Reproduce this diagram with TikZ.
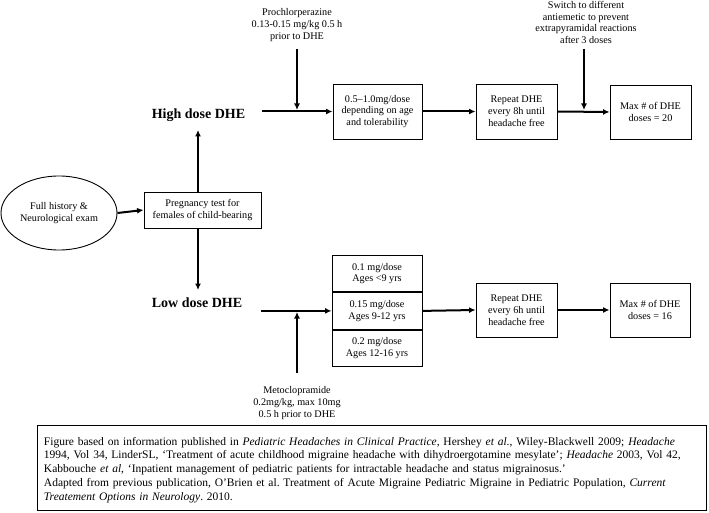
\documentclass[tikz,border=0pt]{standalone}
\usepackage{fontspec}
\setmainfont{Liberation Serif}
\usetikzlibrary{shapes.geometric,arrows.meta}
\begin{document}
\frenchspacing
\begin{tikzpicture}[x=1pt,y=-1pt,
  box/.style={draw,line width=0.9pt,align=center,font=\fontsize{10.2}{11.8}\selectfont,inner sep=1pt},
  lbl/.style={align=center,font=\fontsize{10.2}{11.6}\selectfont,inner sep=0pt},
  dose/.style={font=\fontsize{14}{15}\selectfont\bfseries,inner sep=0pt,minimum width=127pt},
  arr/.style={line width=2pt,-{Latex[length=6.5pt,width=6pt]}},
  stk/.style={box,minimum width=90pt,minimum height=36.5pt}]
\useasboundingbox (0,0) rectangle (709,513);
% start
\node[draw,ellipse,line width=0.9pt,minimum width=116pt,minimum height=74pt,align=center,
  font=\fontsize{10.2}{11.8}\selectfont,inner sep=0pt] (ex) at (59,213) {Full history \&\\Neurological exam};
\node[box,minimum width=117pt,minimum height=36pt] (preg) at (202.5,210) {Pregnancy test for\\females of child-bearing};
\draw[arr] (ex.east) -- (preg.west);
% high
\node[dose] (hi) at (198.5,115) {High dose DHE};
\node[dose] (lo) at (197,303) {Low dose DHE};
\coordinate (hiend) at (198,130);
\coordinate (loend) at (198,290);
\draw[arr] (preg.north -| hiend) -- (hiend);
\draw[arr] (preg.south -| loend) -- (loend);
\node[box,minimum width=89pt,minimum height=55pt] (b1) at (377.5,111.5) {0.5–1.0mg/dose\\depending on age\\and tolerability};
\node[box,minimum width=81pt,minimum height=55pt] (b2) at (516.5,111.5) {Repeat DHE\\every 8h until\\headache free};
\node[box,minimum width=81pt,minimum height=54pt] (b3) at (650.5,112) {Max \# of DHE\\doses = 20};
\draw[arr] (hi.east |- b1.west) -- (b1.west);
\draw[arr] (b1.east) -- (b2.west);
\draw[arr] (b2.east) -- (b3.west);
\node[lbl] (pro) at (297,25) {Prochlorperazine\\0.13-0.15 mg/kg 0.5 h\\prior to DHE};
\coordinate (prostart) at (297,49);
\coordinate (proend) at (297,110);
\draw[arr] (prostart) -- (proend);
\node[lbl] (sw) at (586,22.5) {Switch to different\\antiemetic to prevent\\extrapyramidal reactions\\after 3 doses};
\coordinate (swstart) at (584,49);
\coordinate (swend) at (584,110);
\draw[arr] (swstart) -- (swend);
% low
\node[stk] (s1) at (377,273.5) {0.1 mg/dose\\Ages <9 yrs};
\node[stk,anchor=north] (s2) at (s1.south) {0.15 mg/dose\\Ages 9-12 yrs};
\node[stk,anchor=north] (s3) at (s2.south) {0.2 mg/dose\\Ages 12-16 yrs};
\node[box,minimum width=81pt,minimum height=54pt] (c2) at (516.5,310) {Repeat DHE\\every 6h until\\headache free};
\node[box,minimum width=80pt,minimum height=54pt] (c3) at (650,310) {Max \# of DHE\\doses = 16};
\draw[arr] (lo.east |- s2.west) -- (s2.west);
\draw[arr] (s2.east) -- (c2.west);
\draw[arr] (c2.east) -- (c3.west);
\node[lbl] (met) at (297,403) {Metoclopramide\\0.2mg/kg, max 10mg\\0.5 h prior to DHE};
\coordinate (metstart) at (297,373);
\coordinate (metend) at (297,312);
\draw[arr] (metstart) -- (metend);
% caption
\node[draw,line width=0.9pt,anchor=north west,minimum width=669pt,minimum height=85pt,
  text width=664pt,align=left,inner sep=0pt,font=\fontsize{11.5}{13.8}\selectfont] (cap) at (37,425)
{\hspace*{4pt}\begin{minipage}{660pt}\vspace{4pt}Figure based on information published in \textit{Pediatric Headaches in Clinical Practice}, Hershey \textit{et al}., Wiley-Blackwell 2009; \textit{Headache}\\
1994, Vol 34, LinderSL, ‘Treatment of acute childhood migraine headache with dihydroergotamine mesylate’; \textit{Headache} 2003, Vol 42,\\
Kabbouche \textit{et al}, ‘Inpatient management of pediatric patients for intractable headache and status migrainosus.’\\
Adapted from previous publication, O’Brien et al. Treatment of Acute Migraine Pediatric Migraine in Pediatric Population, \textit{Current}\\
\textit{Treatement Options in Neurology}. 2010.\end{minipage}};
\end{tikzpicture}
\end{document}
